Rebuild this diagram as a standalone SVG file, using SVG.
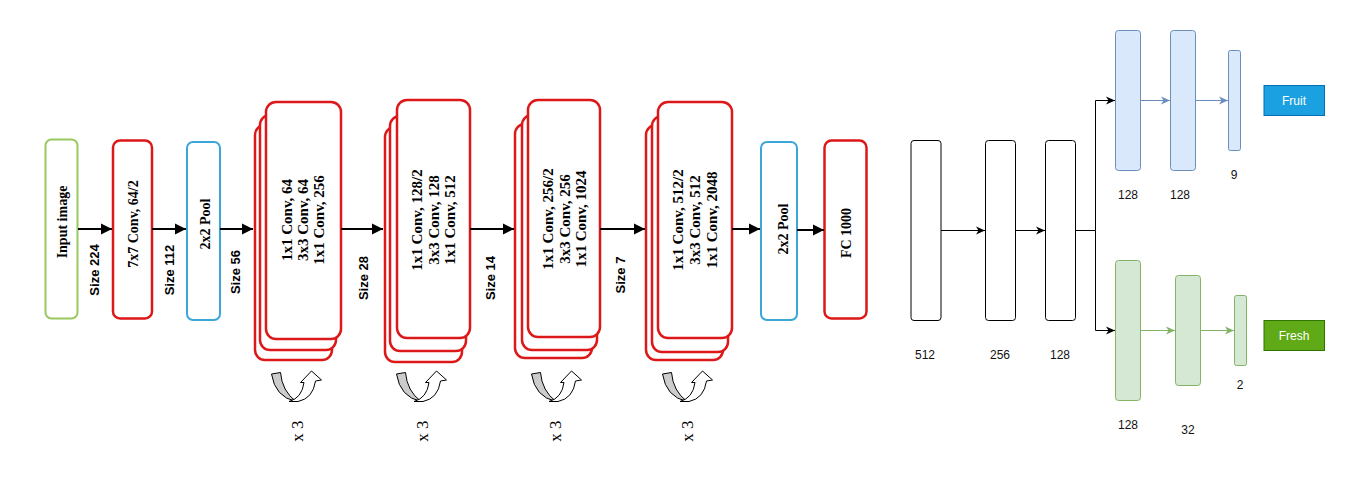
<svg xmlns="http://www.w3.org/2000/svg" width="1355" height="489" viewBox="0 0 1355 489">
<style>
  .serif { font-family: "Liberation Serif", "Times New Roman", serif; font-weight: bold; font-size: 14px; fill: #000; }
  .stk { font-size: 15px; }
  .size { font-family: "Liberation Sans", Arial, sans-serif; font-size: 13px; fill: #000; }
  .sizeb { font-weight: bold; }
  .rep { font-family: "Liberation Serif", "Times New Roman", serif; font-size: 17px; fill: #000; }
  .lab { font-family: "Liberation Sans", Arial, sans-serif; font-size: 12px; fill: #111; }
  .red { fill: #fff; stroke: #dd1818; stroke-width: 2.5; }
  .thick { stroke: #000; stroke-width: 2; fill: none; }
  .thin { stroke: #000; stroke-width: 1; fill: none; }
  .bthin { stroke: #6c8ebf; stroke-width: 1; fill: none; }
  .gthin { stroke: #82b366; stroke-width: 1; fill: none; }
  .blue { fill: #dae8fc; stroke: #6c8ebf; stroke-width: 1; }
  .green { fill: #d5e8d4; stroke: #82b366; stroke-width: 1; }
  .wbox { fill: #fff; stroke: #000; stroke-width: 1; }
</style>
<defs>
  <marker id="ah" markerUnits="userSpaceOnUse" markerWidth="12" markerHeight="12" refX="11" refY="6" orient="auto">
    <path d="M0,0.5 L11,6 L0,11.5 z" fill="#000"/>
  </marker>
  <marker id="ak" markerUnits="userSpaceOnUse" markerWidth="10" markerHeight="10" refX="9" refY="5" orient="auto">
    <path d="M0,1 L9,5 L0,9 L2.5,5 z" fill="#000"/>
  </marker>
  <marker id="ab" markerUnits="userSpaceOnUse" markerWidth="10" markerHeight="10" refX="9" refY="5" orient="auto">
    <path d="M0,1 L9,5 L0,9 L2.5,5 z" fill="#6c8ebf"/>
  </marker>
  <marker id="ag" markerUnits="userSpaceOnUse" markerWidth="10" markerHeight="10" refX="9" refY="5" orient="auto">
    <path d="M0,1 L9,5 L0,9 L2.5,5 z" fill="#82b366"/>
  </marker>
  <g id="uturn">
    <path d="M271.5,374 L280.5,372.5 Q282,391 296,401.5 Q275,397 271.5,374 Z" fill="#cccccc" stroke="#000" stroke-width="1"/>
    <path d="M289,401.5 Q302,398 304,382.5 L300.5,382.5 L311.5,371 L321.5,380 L315.5,381 Q313,398.5 298,401.5 Z" fill="#fff" stroke="#000" stroke-width="1"/>
  </g>
</defs>

<g id="input">
  <rect x="45.5" y="139.5" width="32" height="179" rx="6" fill="#fff" stroke="#97c95f" stroke-width="2"/>
  <text class="serif" transform="translate(62,222) rotate(-90)" text-anchor="middle" dominant-baseline="central">Input image</text>
</g>
<g id="conv7">
  <rect x="113" y="140.5" width="39" height="178" rx="7" class="red"/>
  <text class="serif" transform="translate(133,224) rotate(-90)" text-anchor="middle" dominant-baseline="central">7x7 Conv, 64/2</text>
</g>
<g id="pool1">
  <rect x="187" y="142" width="33" height="178" rx="6" fill="#fff" stroke="#3aa7d8" stroke-width="2"/>
  <text class="serif" transform="translate(205,224) rotate(-90)" text-anchor="middle" dominant-baseline="central">2x2 Pool</text>
</g>

<g id="stack1">
  <rect x="255" y="125" width="77" height="235" rx="10" class="red"/>
  <rect x="260" y="115" width="76" height="235" rx="10" class="red"/>
  <rect x="266" y="102" width="75" height="237" rx="10" class="red"/>
  <text class="serif stk" transform="translate(287,220) rotate(-90)" text-anchor="middle" dominant-baseline="central">1x1 Conv, 64</text>
  <text class="serif stk" transform="translate(303,220) rotate(-90)" text-anchor="middle" dominant-baseline="central">3x3 Conv, 64</text>
  <text class="serif stk" transform="translate(319,220) rotate(-90)" text-anchor="middle" dominant-baseline="central">1x1 Conv, 256</text>
</g>
<g id="stack2">
  <rect x="385" y="127" width="77" height="235" rx="10" class="red"/>
  <rect x="390" y="116" width="76" height="235" rx="10" class="red"/>
  <rect x="397" y="100" width="73" height="238" rx="10" class="red"/>
  <text class="serif stk" transform="translate(417,220) rotate(-90)" text-anchor="middle" dominant-baseline="central">1x1 Conv, 128/2</text>
  <text class="serif stk" transform="translate(434,220) rotate(-90)" text-anchor="middle" dominant-baseline="central">3x3 Conv, 128</text>
  <text class="serif stk" transform="translate(450,220) rotate(-90)" text-anchor="middle" dominant-baseline="central">1x1 Conv, 512</text>
</g>
<g id="stack3">
  <rect x="515" y="124" width="77" height="234" rx="10" class="red"/>
  <rect x="522" y="115" width="75" height="235" rx="10" class="red"/>
  <rect x="528" y="100" width="72" height="237" rx="10" class="red"/>
  <text class="serif stk" transform="translate(548,219) rotate(-90)" text-anchor="middle" dominant-baseline="central">1x1 Conv, 256/2</text>
  <text class="serif stk" transform="translate(565,219) rotate(-90)" text-anchor="middle" dominant-baseline="central">3x3 Conv, 256</text>
  <text class="serif stk" transform="translate(581,219) rotate(-90)" text-anchor="middle" dominant-baseline="central">1x1 Conv, 1024</text>
</g>
<g id="stack4">
  <rect x="646" y="125" width="77" height="235" rx="10" class="red"/>
  <rect x="652" y="116" width="76" height="236" rx="10" class="red"/>
  <rect x="658" y="102" width="74" height="236" rx="10" class="red"/>
  <text class="serif stk" transform="translate(678,220) rotate(-90)" text-anchor="middle" dominant-baseline="central">1x1 Conv, 512/2</text>
  <text class="serif stk" transform="translate(695,220) rotate(-90)" text-anchor="middle" dominant-baseline="central">3x3 Conv, 512</text>
  <text class="serif stk" transform="translate(712,220) rotate(-90)" text-anchor="middle" dominant-baseline="central">1x1 Conv, 2048</text>
</g>
<g id="pool2">
  <rect x="761" y="142" width="36" height="178" rx="6" fill="#fff" stroke="#3aa7d8" stroke-width="2"/>
  <text class="serif" transform="translate(783,229) rotate(-90)" text-anchor="middle" dominant-baseline="central">2x2 Pool</text>
</g>
<g id="fc">
  <rect x="824.5" y="140.5" width="42" height="178" rx="7" class="red"/>
  <text class="serif" transform="translate(846,233) rotate(-90)" text-anchor="middle" dominant-baseline="central">FC 1000</text>
</g>

<g id="sizes">
  <text class="size sizeb" transform="translate(94,270) rotate(-90)" text-anchor="middle" dominant-baseline="central">Size 224</text>
  <text class="size sizeb" transform="translate(169,270) rotate(-90)" text-anchor="middle" dominant-baseline="central">Size 112</text>
  <text class="size sizeb" transform="translate(235,272) rotate(-90)" text-anchor="middle" dominant-baseline="central">Size 56</text>
  <text class="size sizeb" transform="translate(363,278) rotate(-90)" text-anchor="middle" dominant-baseline="central">Size 28</text>
  <text class="size sizeb" transform="translate(490,278) rotate(-90)" text-anchor="middle" dominant-baseline="central">Size 14</text>
  <text class="size sizeb" transform="translate(620,275) rotate(-90)" text-anchor="middle" dominant-baseline="central">Size 7</text>
</g>

<g id="repeats">
  <use href="#uturn"/>
  <use href="#uturn" transform="translate(125,0)"/>
  <use href="#uturn" transform="translate(260,0)"/>
  <use href="#uturn" transform="translate(391,0)"/>
  <text class="rep" transform="translate(297,431) rotate(-90)" text-anchor="middle" dominant-baseline="central">x 3</text>
  <text class="rep" transform="translate(422,431) rotate(-90)" text-anchor="middle" dominant-baseline="central">x 3</text>
  <text class="rep" transform="translate(555,431) rotate(-90)" text-anchor="middle" dominant-baseline="central">x 3</text>
  <text class="rep" transform="translate(687,431) rotate(-90)" text-anchor="middle" dominant-baseline="central">x 3</text>
</g>

<g id="fc512">
  <rect x="911" y="140.5" width="30" height="180" rx="3" class="wbox"/>
  <text class="lab" x="925" y="359" text-anchor="middle">512</text>
</g>
<g id="fc256">
  <rect x="985.5" y="140.5" width="30" height="180" rx="3" class="wbox"/>
  <text class="lab" x="1000" y="359" text-anchor="middle">256</text>
</g>
<g id="fc128">
  <rect x="1045.5" y="140.5" width="30" height="180" rx="3" class="wbox"/>
  <text class="lab" x="1060" y="359" text-anchor="middle">128</text>
</g>

<g id="fruit1">
  <rect x="1115.5" y="30.5" width="25" height="140" rx="3" class="blue"/>
  <text class="lab" x="1128" y="199" text-anchor="middle">128</text>
</g>
<g id="fruit2">
  <rect x="1170.5" y="30.5" width="25" height="140" rx="3" class="blue"/>
  <text class="lab" x="1180" y="199" text-anchor="middle">128</text>
</g>
<g id="fruit3">
  <rect x="1228.5" y="50.5" width="12" height="100" rx="2" class="blue"/>
  <text class="lab" x="1234" y="179" text-anchor="middle">9</text>
</g>
<g id="fruit">
  <rect x="1264" y="85.5" width="60.5" height="30" fill="#1ba1e2" stroke="#006eaf" stroke-width="1"/>
  <text class="lab" x="1294" y="104.5" text-anchor="middle" style="fill:#fff">Fruit</text>
</g>

<g id="fresh1">
  <rect x="1115.5" y="260.5" width="25" height="140" rx="3" class="green"/>
  <text class="lab" x="1128" y="429" text-anchor="middle">128</text>
</g>
<g id="fresh2">
  <rect x="1175.5" y="275.5" width="25" height="110" rx="3" class="green"/>
  <text class="lab" x="1188" y="434" text-anchor="middle">32</text>
</g>
<g id="fresh3">
  <rect x="1234.5" y="295.5" width="12" height="70" rx="2" class="green"/>
  <text class="lab" x="1240" y="389" text-anchor="middle">2</text>
</g>
<g id="fresh">
  <rect x="1264" y="320.5" width="60.5" height="30" fill="#60a917" stroke="#2d7600" stroke-width="1"/>
  <text class="lab" x="1294" y="339.5" text-anchor="middle" style="fill:#fff">Fresh</text>
</g>

<g id="connectors">
  <line x1="78" y1="229" x2="112" y2="229" class="thick" marker-end="url(#ah)"/>
  <line x1="152" y1="229" x2="186" y2="229" class="thick" marker-end="url(#ah)"/>
  <line x1="220" y1="229" x2="253" y2="229" class="thick" marker-end="url(#ah)"/>
  <line x1="341" y1="229" x2="383" y2="229" class="thick" marker-end="url(#ah)"/>
  <line x1="470" y1="229" x2="514" y2="229" class="thick" marker-end="url(#ah)"/>
  <line x1="600" y1="229" x2="645" y2="229" class="thick" marker-end="url(#ah)"/>
  <line x1="732" y1="229" x2="760" y2="229" class="thick" marker-end="url(#ah)"/>
  <line x1="797" y1="230" x2="824" y2="230" class="thick" marker-end="url(#ah)"/>

  <line x1="941" y1="230.5" x2="985" y2="230.5" class="thin" marker-end="url(#ak)"/>
  <line x1="1015" y1="230.5" x2="1045" y2="230.5" class="thin" marker-end="url(#ak)"/>
  <path d="M1075,230.5 H1095.5 V100.5 H1115" class="thin" marker-end="url(#ak)"/>
  <path d="M1095.5,230.5 V330.5 H1115" class="thin" marker-end="url(#ak)"/>

  <line x1="1140" y1="100.5" x2="1170" y2="100.5" class="bthin" marker-end="url(#ab)"/>
  <line x1="1195" y1="100.5" x2="1228" y2="100.5" class="bthin" marker-end="url(#ab)"/>
  <line x1="1140" y1="330.5" x2="1175" y2="330.5" class="gthin" marker-end="url(#ag)"/>
  <line x1="1200" y1="330.5" x2="1234" y2="330.5" class="gthin" marker-end="url(#ag)"/>
</g>
</svg>
